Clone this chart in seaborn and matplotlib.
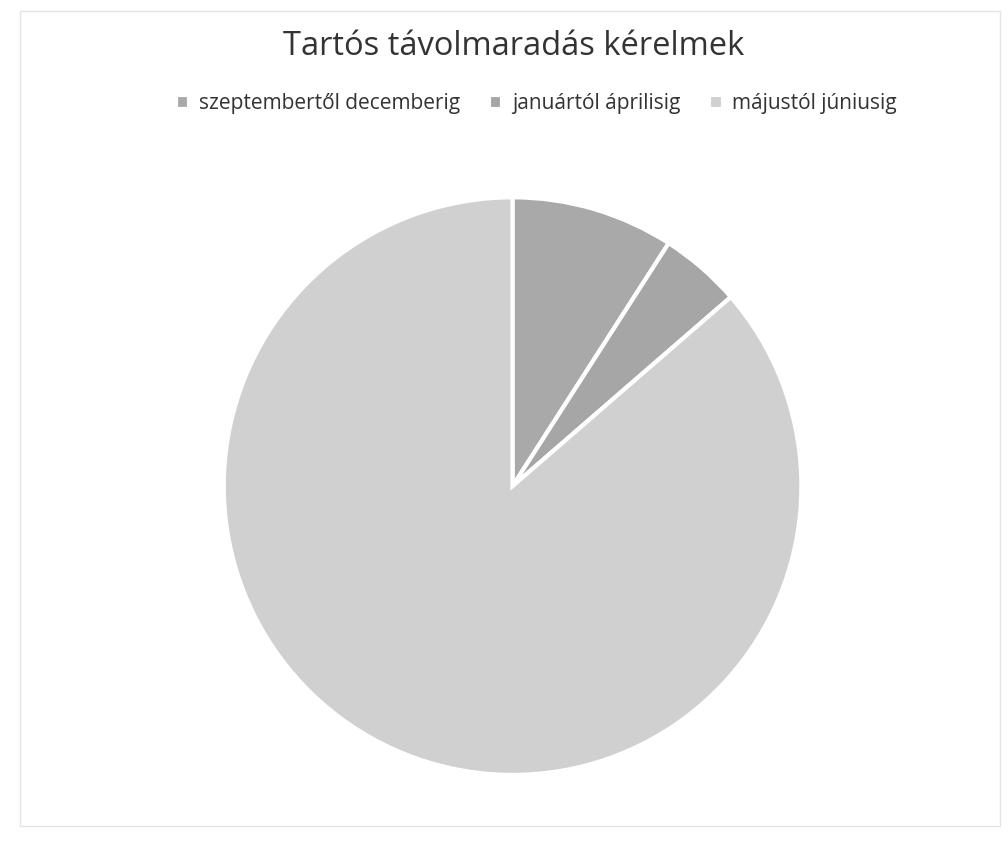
import matplotlib
matplotlib.use('Agg')
import matplotlib.pyplot as plt
import seaborn as sns
from matplotlib.patches import Rectangle

sns.set_theme(style='white')
plt.rcParams['font.family'] = ['Open Sans', 'DejaVu Sans']

# Data
labels = ['szeptembertől decemberig', 'januártól áprilisig', 'májustól júniusig']
values = [2, 1, 19]
colors = ['#a9a9a9', '#a6a6a6', '#d0d0d0']

fig = plt.figure(figsize=(10.08, 8.56), dpi=100)
fig.patch.set_facecolor('white')

# light chart frame
fig.patches.append(Rectangle((0.02, 0.035), 0.972, 0.952, transform=fig.transFigure,
                             fill=False, edgecolor='#e4e4e4', linewidth=1))

ax = fig.add_axes([0.222, 0.0946, 0.573, 0.675])
wedges, _ = ax.pie(values, colors=colors, startangle=90, counterclock=False,
                   wedgeprops=dict(edgecolor='white', linewidth=3))
ax.set_xlim(-1.0, 1.0)
ax.set_ylim(-1.0, 1.0)
ax.set_aspect('equal')

fig.text(0.51, 0.946, 'Tartós távolmaradás kérelmek', ha='center', va='center',
         fontsize=23.5, color='#333333')

fig.legend(wedges, labels, loc='center', bbox_to_anchor=(0.532, 0.879), ncol=3,
           frameon=False, fontsize=15, handlelength=0.65, handleheight=0.65,
           handletextpad=0.45, columnspacing=1.4, labelcolor='#333333')

plt.savefig('out.png', dpi=100, facecolor='white')
